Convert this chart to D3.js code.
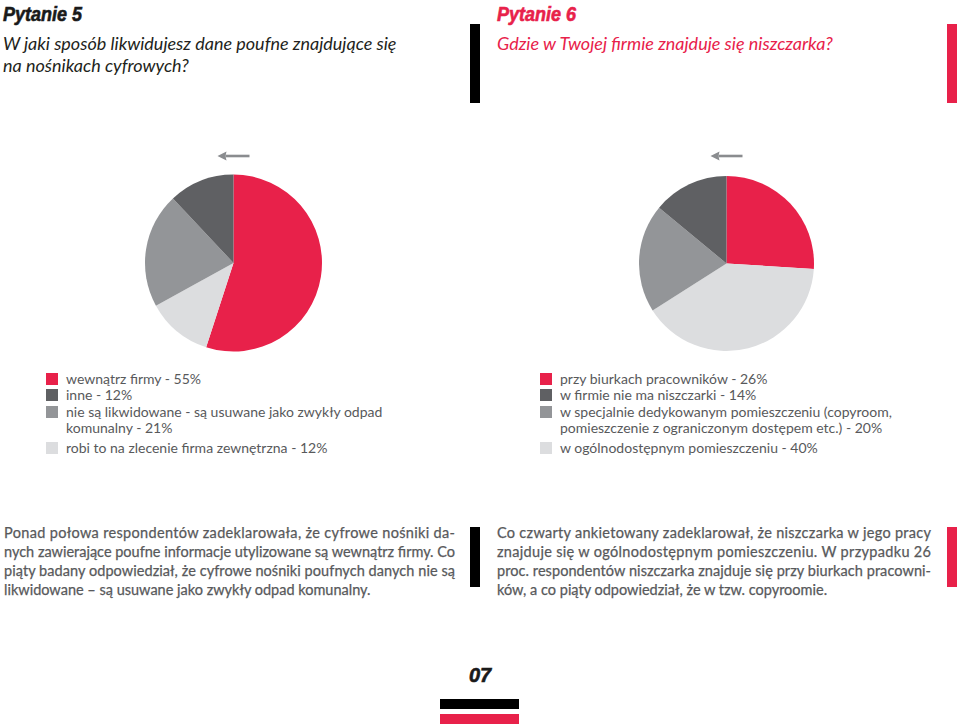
<!DOCTYPE html>
<html>
<head>
<meta charset="utf-8">
<script src="https://cdn.jsdelivr.net/npm/d3@7/dist/d3.min.js"></script>
<style>
  body { margin: 0; background: #fff; }
  svg { display: block; }
  .head { font-family: "Liberation Sans Narrow", "Liberation Sans", sans-serif; font-weight: bold; font-style: italic; }
  .sub { font-family: Lato, "Open Sans", sans-serif; font-style: italic; }
  .txt { font-family: Lato, "Open Sans", sans-serif; fill: #58595b; }
</style>
</head>
<body>
<svg width="960" height="724"></svg>
<script>
// ---- data ----
var colors = ["#e8214a", "#5f6063", "#939598", "#dcdddf"];   // legend order: red, dark, mid, light
var pieOrder = [0, 3, 2, 1];                                 // clockwise from 12 o'clock

var q5Labels = ["wewnątrz firmy - 55%", "inne - 12%",
  "nie są likwidowane - są usuwane jako zwykły odpad\nkomunalny - 21%",
  "robi to na zlecenie firma zewnętrzna - 12%"];
var q5Values = [55, 12, 21, 12];

var q6Labels = ["przy biurkach pracowników - 26%", "w firmie nie ma niszczarki - 14%",
  "w specjalnie dedykowanym pomieszczeniu (copyroom,\npomieszczenie z ograniczonym dostępem etc.) - 20%",
  "w ogólnodostępnym pomieszczeniu - 40%"];
var q6Values = [26, 14, 20, 40];

var q5Text = ["Ponad połowa respondentów zadeklarowała, że cyfrowe nośniki da-",
  "nych zawierające poufne informacje utylizowane są wewnątrz firmy. Co",
  "piąty badany odpowiedział, że cyfrowe nośniki poufnych danych nie są",
  "likwidowane – są usuwane jako zwykły odpad komunalny."];
var q6Text = ["Co czwarty ankietowany zadeklarował, że niszczarka w jego pracy",
  "znajduje się w ogólnodostępnym pomieszczeniu. W przypadku 26",
  "proc. respondentów niszczarka znajduje się przy biurkach pracowni-",
  "ków, a co piąty odpowiedział, że w tzw. copyroomie."];

var svg = d3.select("svg");

// headers
function header(x, title, titleColor, lines, subColor) {
  svg.append("text").attr("class", "head")
    .attr("x", x).attr("y", 21)
    .attr("font-size", 20).attr("fill", titleColor)
    .attr("stroke", titleColor).attr("stroke-width", 0.6)
    .attr("textLength", 79).attr("lengthAdjust", "spacingAndGlyphs")
    .text(title);
  svg.append("g").selectAll("text").data(lines).enter().append("text")
    .attr("class", "sub")
    .attr("x", x).attr("y", function(d, i) { return 50 + i * 22; })
    .attr("font-size", 18).attr("fill", subColor)
    .text(function(d) { return d; });
}
header(3, "Pytanie 5", "#1a1a1a",
  ["W jaki sposób likwidujesz dane poufne znajdujące się", "na nośnikach cyfrowych?"], "#231f20");
header(497, "Pytanie 6", "#e8214a",
  ["Gdzie w Twojej firmie znajduje się niszczarka?"], "#e8214a");

// side bars
var bars = [
  {x: 470, y: 24, h: 79, c: "#000"}, {x: 947, y: 24, h: 79, c: "#e8214a"},
  {x: 470, y: 527, h: 60, c: "#000"}, {x: 947, y: 527, h: 60, c: "#e8214a"}
];
svg.append("g").selectAll("rect").data(bars).enter().append("rect")
  .attr("x", function(d) { return d.x; }).attr("y", function(d) { return d.y; })
  .attr("width", 10).attr("height", function(d) { return d.h; })
  .attr("fill", function(d) { return d.c; });

// pies
function drawPie(cx, cy, r, values) {
  var data = pieOrder.map(function(i) { return {v: values[i], c: colors[i]}; });
  var pie = d3.pie().sort(null).value(function(d) { return d.v; });
  var arc = d3.arc().innerRadius(0).outerRadius(r);
  var g = svg.append("g").attr("transform", "translate(" + cx + "," + cy + ")");
  g.selectAll("path").data(pie(data)).enter().append("path")
    .attr("d", arc).attr("fill", function(d) { return d.data.c; });
  // arrow above the pie, pointing left
  var a = svg.append("g").attr("transform", "translate(" + cx + ",156)");
  a.append("line").attr("x1", 16).attr("x2", -8).attr("y1", 0).attr("y2", 0)
    .attr("stroke", "#8a8c8f").attr("stroke-width", 2.6);
  a.append("path").attr("d", "M-16,0 L-7,-4.5 L-8,0 L-7,4.5 Z").attr("fill", "#8a8c8f");
}
drawPie(233.5, 263, 88.5, q5Values);
drawPie(726.5, 263.5, 87.5, q6Values);

// legends
function legend(x, labels) {
  var rowsY = [384, 400, 417, 453];
  var g = svg.append("g");
  labels.forEach(function(lab, i) {
    g.append("rect").attr("x", x).attr("y", rowsY[i] - 11)
      .attr("width", 12).attr("height", 12).attr("fill", colors[i]);
    lab.split("\n").forEach(function(line, j) {
      g.append("text").attr("class", "txt")
        .attr("x", x + 20).attr("y", rowsY[i] + j * 15.5)
        .attr("font-size", 14)
        .text(line);
    });
  });
}
legend(46, q5Labels);
legend(540, q6Labels);

// justified paragraphs
function paragraph(x, w, lines) {
  svg.append("g").selectAll("text").data(lines).enter().append("text")
    .attr("class", "txt")
    .attr("x", x).attr("y", function(d, i) { return 538 + i * 19; })
    .attr("font-size", 14.5)
    .attr("stroke", "#58595b").attr("stroke-width", 0.25)
    .attr("textLength", function(d, i) { return i < lines.length - 1 ? w : null; })
    .attr("lengthAdjust", "spacing")
    .text(function(d) { return d; });
}
paragraph(4, 451, q5Text);
paragraph(497, 434, q6Text);

// page number
svg.append("text").attr("class", "head")
  .attr("x", 480).attr("y", 682).attr("text-anchor", "middle")
  .attr("font-size", 20).attr("fill", "#1a1a1a")
  .attr("stroke", "#1a1a1a").attr("stroke-width", 0.6)
  .text("07");
svg.append("rect").attr("x", 440).attr("y", 699).attr("width", 79).attr("height", 10).attr("fill", "#000");
svg.append("rect").attr("x", 440).attr("y", 714).attr("width", 79).attr("height", 10).attr("fill", "#e8214a");
</script>
</body>
</html>
